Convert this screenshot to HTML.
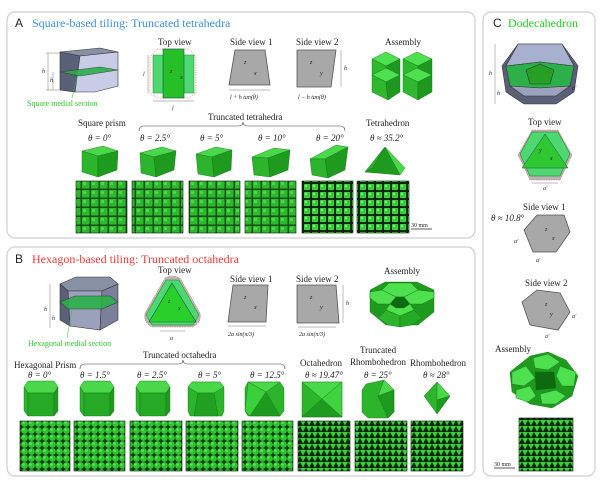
<!DOCTYPE html>
<html><head><meta charset="utf-8"><style>
body{margin:0;background:#fff}
svg{display:block}
text{font-family:"Liberation Serif",serif;fill:#222}
.lab{font-size:9px}
.sm{font-size:6px;font-style:italic}
.th{font-size:9px;font-style:italic}
</style></head><body>
<svg width="600" height="485" viewBox="0 0 600 485" xmlns="http://www.w3.org/2000/svg">
<defs>
<pattern id="pa" width="9" height="9" patternUnits="userSpaceOnUse">
<rect width="9" height="9" fill="#145014"/><rect x="1" y="1" width="7.5" height="7.5" fill="#2eb82e"/><rect x="2" y="2" width="3" height="3" fill="#48d848"/></pattern>
<pattern id="pa2" width="8" height="8" patternUnits="userSpaceOnUse">
<rect width="8" height="8" fill="#062806"/><rect x="0" y="0" width="6" height="6" fill="#38d038"/><rect x="1" y="1" width="2" height="2" fill="#80f080"/></pattern>
<pattern id="pb" width="7" height="7" patternUnits="userSpaceOnUse">
<rect width="7" height="7" fill="#0c3a0c"/><circle cx="3.5" cy="3.5" r="3.4" fill="#2fc42f"/><circle cx="2.5" cy="2.5" r="1.3" fill="#60e060"/></pattern>
<pattern id="pc" width="6" height="6" patternUnits="userSpaceOnUse">
<rect width="6" height="6" fill="#0a2a0a"/><path d="M0 0h6l-3 5.5z" fill="#3ad03a"/></pattern>
</defs>

<rect x="7" y="12" width="468" height="226" rx="8" fill="#fff" stroke="#cfcfcf" stroke-width="1.2"/>
<rect x="7" y="247" width="468" height="229" rx="8" fill="#fff" stroke="#cfcfcf" stroke-width="1.2"/>
<rect x="483" y="12" width="112" height="464" rx="8" fill="#fff" stroke="#cfcfcf" stroke-width="1.2"/>

<text x="15" y="27" style="font-family:'Liberation Sans',sans-serif;font-size:12px" fill="#111">A</text>
<text x="32" y="27" style="font-size:12px;fill:#3a90d8">Square-based tiling: Truncated tetrahedra</text>
<text x="15" y="263" style="font-family:'Liberation Sans',sans-serif;font-size:12px" fill="#111">B</text>
<text x="32" y="263" style="font-size:12px;fill:#f03838">Hexagon-based tiling: Truncated octahedra</text>
<text x="493" y="27" style="font-family:'Liberation Sans',sans-serif;font-size:12px" fill="#111">C</text>
<text x="508" y="27" style="font-size:12px;fill:#22cc22">Dodecahedron</text>

<g stroke="#333" stroke-width="0.6">
<polygon points="60,52 100,48 118,52 80,56" fill="#8890a4"/>
<polygon points="60,52 80,56 75,92 60,90" fill="#5a6078"/>
<polygon points="80,56 118,52 118,86 95,92 75,92" fill="#c8cce6"/>
<polygon points="60,72 100,67 118,70 80,76" fill="#2bb04a" opacity="0.9"/>
</g>
<g stroke="#555" stroke-width="0.4" fill="none"><line x1="46" y1="53" x2="60" y2="53"/><line x1="48" y1="53" x2="48" y2="90"/><line x1="46" y1="90" x2="60" y2="90"/><line x1="53" y1="72" x2="53" y2="90"/></g>
<text x="42" y="73" class="sm">h</text><text x="50" y="82" class="sm">h</text>
<text x="27" y="106" style="font-size:8px;fill:#2ec82e">Square medial section</text>
<line x1="72" y1="98" x2="78" y2="74" stroke="#2ec82e" stroke-width="0.5"/>

<text x="158" y="45" class="lab">Top view</text>
<polygon points="157,49 189,49 196,57 196,93 189,98 157,98 150,93 150,57" fill="none" stroke="#f55" stroke-width="0.5" stroke-dasharray="1.5 1"/>
<rect x="153" y="55" width="41" height="38" fill="#4fd872" stroke="#1a8a1a" stroke-width="0.5"/>
<rect x="163" y="49" width="21" height="49" fill="#26c026" stroke="#155" stroke-width="0.6"/>
<line x1="148" y1="55" x2="148" y2="93" stroke="#555" stroke-width="0.4"/><text x="143" y="76" class="sm">l</text>
<line x1="153" y1="101" x2="194" y2="101" stroke="#555" stroke-width="0.4"/><text x="172" y="110" class="sm">l</text>
<text x="170" y="73" class="sm">z</text><text x="180" y="79" class="sm">x</text>

<text x="230" y="45" class="lab">Side view 1</text>
<polygon points="235,50 265,50 270,85 229,85" fill="#a8a8a8" stroke="#555" stroke-width="0.8"/>
<line x1="229" y1="90" x2="270" y2="90" stroke="#555" stroke-width="0.4"/>
<text x="230" y="99" class="sm">l + h tan(θ)</text><text x="244" y="64" class="sm">z</text><text x="254" y="75" class="sm">x</text>

<text x="296" y="45" class="lab">Side view 2</text>
<polygon points="297,50 336,50 331,87 297,87" fill="#a8a8a8" stroke="#555" stroke-width="0.8"/>
<line x1="341" y1="50" x2="341" y2="87" stroke="#555" stroke-width="0.4"/><text x="344" y="70" class="sm">h</text>
<text x="298" y="99" class="sm">l − h tan(θ)</text><text x="310" y="64" class="sm">z</text><text x="320" y="75" class="sm">y</text>

<text x="385" y="45" class="lab">Assembly</text>
<g stroke="#137013" stroke-width="0.4">
<polygon points="372,59 386,52 400,59 386,66" fill="#4ee04e"/>
<polygon points="372,59 386,66 386,82 372,75" fill="#2fb82f"/><polygon points="386,66 400,59 400,75 386,82" fill="#1f981f"/>
<polygon points="403,59 417,52 432,59 418,66" fill="#4ee04e"/>
<polygon points="403,59 418,66 418,82 403,75" fill="#2fb82f"/><polygon points="418,66 432,59 432,75 418,82" fill="#1f981f"/>
<polygon points="372,75 386,68 400,75 386,82" fill="#4ee04e"/>
<polygon points="372,75 386,82 388,100 372,92" fill="#2fb82f"/><polygon points="386,82 400,75 400,92 388,100" fill="#1f981f"/>
<polygon points="403,75 417,68 432,75 418,82" fill="#4ee04e"/>
<polygon points="403,75 418,82 418,100 403,92" fill="#2fb82f"/><polygon points="418,82 432,75 432,92 418,100" fill="#1f981f"/>
</g>

<text x="78" y="126" class="lab">Square prism</text>
<text x="208" y="120" class="lab">Truncated tetrahedra</text>
<path d="M139,131 q0,-5 5,-5 h94 q5,0 5,-4 q0,4 5,4 h92 q5,0 5,5" fill="none" stroke="#444" stroke-width="0.6"/>
<text x="366" y="126" class="lab">Tetrahedron</text>
<text x="88" y="141" class="th">θ = 0°</text><text x="140" y="141" class="th">θ = 2.5°</text><text x="200" y="141" class="th">θ = 5°</text><text x="258" y="141" class="th">θ = 10°</text><text x="316" y="141" class="th">θ = 20°</text><text x="370" y="141" class="th">θ ≈ 35.2°</text>
<g stroke="#137013" stroke-width="0.4">
<polygon points="82,151 103,146 118,151 98,156" fill="#49d849"/><polygon points="82,151 98,156 98,177 82,172" fill="#2cb52c"/><polygon points="98,156 118,151 117,170 98,177" fill="#1e9a1e"/>
<polygon points="140,153 162,147 176,151 154,157" fill="#49d849"/><polygon points="140,153 154,157 156,177 141,173" fill="#2cb52c"/><polygon points="154,157 176,151 174,170 156,177" fill="#1e9a1e"/>
<polygon points="196,154 216,147 232,150 212,157" fill="#49d849"/><polygon points="196,154 212,157 214,177 198,174" fill="#2cb52c"/><polygon points="212,157 232,150 231,170 214,177" fill="#1e9a1e"/>
<polygon points="252,157 274,148 290,150 268,158" fill="#49d849"/><polygon points="252,157 268,158 270,177 254,175" fill="#2cb52c"/><polygon points="268,158 290,150 288,170 270,177" fill="#1e9a1e"/>
<polygon points="310,159 336,145 348,147 325,159" fill="#49d849"/><polygon points="310,159 325,159 328,178 312,175" fill="#2cb52c"/><polygon points="325,159 348,147 345,170 328,178" fill="#1e9a1e"/>
<polygon points="365,172 385,147 400,175" fill="#1e9a1e"/><polygon points="385,147 400,175 405,168" fill="#49d849"/><polygon points="365,172 385,147 372,168" fill="#2cb52c"/>
</g>
<g stroke="#111" stroke-width="0.6">
<rect x="76" y="181" width="51" height="52" fill="url(#pa)"/>
<rect x="132" y="181" width="51" height="52" fill="url(#pa)"/>
<rect x="189" y="181" width="51" height="52" fill="url(#pa)"/>
<rect x="245" y="181" width="51" height="52" fill="url(#pa)"/>
<rect x="302" y="181" width="51" height="52" fill="url(#pa2)"/>
<rect x="357" y="181" width="52" height="52" fill="url(#pa2)"/>
</g>
<text x="411" y="227" style="font-size:6px">30 mm</text><line x1="411" y1="229" x2="432" y2="229" stroke="#222" stroke-width="0.8"/>

<g stroke="#333" stroke-width="0.6">
<polygon points="60,284 76,277 110,277 118,284 102,291 68,291" fill="#8890a4"/>
<polygon points="60,284 68,291 70,326 60,320" fill="#5a6078"/>
<polygon points="68,291 102,291 100,330 70,326" fill="#9ca2bc"/>
<polygon points="102,291 118,284 118,320 100,330" fill="#7a809a"/>
<polygon points="60,302 75,296 110,296 118,302 102,309 68,309" fill="#2bb04a" opacity="0.9"/>
</g>
<line x1="50" y1="284" x2="50" y2="328" stroke="#555" stroke-width="0.4"/><text x="44" y="311" class="sm">h</text><text x="52" y="320" class="sm">h</text>
<text x="28" y="346" style="font-size:8px;fill:#2ec82e">Hexagonal medial section</text>
<line x1="67" y1="338" x2="72" y2="310" stroke="#2ec82e" stroke-width="0.5"/>

<text x="158" y="273" class="lab">Top view</text>
<path d="M165,278 Q172,274 180,278 L200,313 Q202,322 193,327 L152,327 Q143,322 145,313 Z" fill="#b8b8b8" stroke="#f55" stroke-width="0.5" stroke-dasharray="1.5 1"/>
<polygon points="166,280 179,280 199,315 193,325 152,325 146,315" fill="#4fd872" stroke="#1a7a1a" stroke-width="0.5"/>
<polygon points="172,283 196,322 149,322" fill="#2ad02a" stroke="#155" stroke-width="0.6"/>
<line x1="160" y1="331" x2="185" y2="331" stroke="#555" stroke-width="0.4"/><text x="170" y="340" class="sm">a</text>
<text x="168" y="303" class="sm">z</text><text x="178" y="310" class="sm">x</text>

<text x="230" y="282" class="lab">Side view 1</text>
<polygon points="233,285 268,285 266,322 228,322" fill="#a8a8a8" stroke="#555" stroke-width="0.8"/>
<line x1="228" y1="326" x2="266" y2="326" stroke="#555" stroke-width="0.4"/>
<text x="228" y="336" class="sm">2a sin(π/3)</text><text x="244" y="299" class="sm">z</text><text x="254" y="309" class="sm">x</text>
<text x="296" y="282" class="lab">Side view 2</text>
<polygon points="297,285 336,285 339,323 297,323" fill="#a8a8a8" stroke="#555" stroke-width="0.8"/>
<line x1="343" y1="285" x2="343" y2="323" stroke="#555" stroke-width="0.4"/><text x="346" y="305" class="sm">h</text>
<line x1="298" y1="327" x2="336" y2="327" stroke="#555" stroke-width="0.4"/><text x="299" y="336" class="sm">2a sin(π/3)</text>
<text x="310" y="299" class="sm">z</text><text x="320" y="309" class="sm">y</text>

<text x="384" y="274" class="lab">Assembly</text>
<g stroke="#137013" stroke-width="0.4">
<polygon points="370,290 385,282 417,282 434,290 434,312 418,325 386,325 370,312" fill="#1f9a1f"/>
<polygon points="389,283 411,283 418,290 404,297 396,297 382,290" fill="#4ee04e"/>
<polygon points="370,292 382,290 396,297 390,304 378,304 370,298" fill="#4ee04e"/>
<polygon points="434,292 418,290 404,297 410,304 422,304 434,298" fill="#4ee04e"/>
<polygon points="396,297 404,297 410,304 404,308 396,308 390,304" fill="#0e6a0e"/>
<polygon points="390,304 396,308 404,308 410,304 414,310 400,316 386,310" fill="#4ee04e"/>
<polygon points="386,310 400,316 400,327 388,325 378,318" fill="#2cb52c"/>
<polygon points="400,316 414,310 422,318 412,325 400,327" fill="#25a825"/>
</g>

<text x="14" y="368" class="lab">Hexagonal Prism</text>
<text x="143" y="358" class="lab">Truncated octahedra</text>
<path d="M80,369 q0,-5 5,-5 h93 q5,0 5,-4 q0,4 5,4 h92 q5,0 5,5" fill="none" stroke="#444" stroke-width="0.6"/>
<text x="300" y="366" class="lab">Octahedron</text>
<text x="360" y="353" class="lab">Truncated</text><text x="350" y="365" class="lab">Rhombohedron</text>
<text x="410" y="366" class="lab">Rhombohedron</text>
<text x="28" y="378" class="th">θ = 0°</text><text x="80" y="378" class="th">θ = 1.5°</text><text x="137" y="378" class="th">θ = 2.5°</text><text x="198" y="378" class="th">θ = 5°</text><text x="250" y="378" class="th">θ = 12.5°</text>
<text x="305" y="378" class="th">θ ≈ 19.47°</text><text x="364" y="378" class="th">θ = 25°</text><text x="423" y="378" class="th">θ ≈ 28°</text>
<g stroke="#137013" stroke-width="0.4">
<g id="hx"><polygon points="24,387 28,381 54,381 58,387 54,393 28,393" fill="#49d849"/><polygon points="24,387 28,393 28,416 24,411" fill="#2cb52c"/><polygon points="28,393 54,393 54,416 28,416" fill="#27ab27"/><polygon points="54,393 58,387 58,411 54,416" fill="#1e9a1e"/></g>
<use href="#hx" x="56"/><use href="#hx" x="112"/>
<polygon points="192,382 220,382 224,387 224,411 222,416 190,416 188,411 188,387" fill="#2cb52c"/><polygon points="192,382 220,382 224,387 214,393 198,393 188,387" fill="#49d849"/><polygon points="198,393 214,393 218,416 194,416" fill="#22a022"/>
<polygon points="248,382 280,382 284,388 284,411 280,416 248,416 245,411 245,388" fill="#2cb52c"/><polygon points="248,382 280,382 266,392" fill="#49d849"/><polygon points="266,392 280,416 250,416" fill="#1e9a1e"/><polygon points="248,382 266,392 250,416 245,411" fill="#3ad03a"/>
<rect x="302" y="382" width="40" height="35" fill="#2cb52c"/><polygon points="302,382 342,382 322,399" fill="#49d849"/><polygon points="302,417 342,417 322,399" fill="#1e9a1e"/><polygon points="342,382 342,417 322,399" fill="#3fd33f"/>
<polygon points="366,384 384,380 394,390 394,412 388,418 368,418 362,412 362,390" fill="#2cb52c"/><polygon points="378,396 394,390 394,412 388,418" fill="#1e9a1e"/><polygon points="384,380 394,390 378,396" fill="#49d849"/>
<polygon points="437,382 450,396 437,414 424,396" fill="#2cb52c"/><polygon points="437,382 450,396 437,400" fill="#49d849"/><polygon points="437,400 450,396 437,414" fill="#1e9a1e"/>
</g>
<g stroke="#111" stroke-width="0.6">
<rect x="20" y="421" width="50" height="50" fill="url(#pb)"/>
<rect x="74" y="421" width="51" height="50" fill="url(#pb)"/>
<rect x="130" y="421" width="52" height="50" fill="url(#pb)"/>
<rect x="186" y="421" width="52" height="50" fill="url(#pb)"/>
<rect x="242" y="421" width="51" height="50" fill="url(#pb)"/>
<rect x="298" y="421" width="52" height="50" fill="url(#pc)"/>
<rect x="355" y="421" width="52" height="50" fill="url(#pc)"/>
<rect x="411" y="421" width="52" height="50" fill="url(#pc)"/>
</g>

<g stroke="#333" stroke-width="0.6">
<polygon points="518,44 562,44 578,66 574,92 556,104 524,104 506,92 502,66" fill="#5a6078"/>
<polygon points="518,44 562,44 574,66 540,62 506,66" fill="#a8b0d0"/>
<polygon points="506,66 540,62 574,66 570,86 540,88 510,86" fill="#2bb04a"/>
<polygon points="526,70 540,64 554,70 550,84 530,84" fill="#25a025"/>
<polygon points="510,86 540,88 570,86 556,96 524,96" fill="#9ca2bc"/>
</g>
<line x1="495" y1="44" x2="495" y2="104" stroke="#555" stroke-width="0.4"/><text x="489" y="75" class="sm">h</text><text x="497" y="95" class="sm">h</text>
<text x="572" y="90" class="sm">a'</text>
<text x="528" y="125" class="lab">Top view</text>
<polygon points="532,130 558,130 572,155 560,180 530,180 518,155" fill="#b5b5b5" stroke="#f55" stroke-width="0.5" stroke-dasharray="1.5 1"/>
<polygon points="532,132 558,132 570,154 560,176 530,176 520,154" fill="#4fd872" stroke="#1a6a1a" stroke-width="0.5"/>
<polygon points="545,134 568,168 522,168" fill="#30c830" stroke="#155" stroke-width="0.5"/>
<line x1="532" y1="183" x2="558" y2="183" stroke="#555" stroke-width="0.4"/><text x="543" y="190" class="sm">a'</text>
<text x="539" y="152" class="sm">y</text><text x="550" y="160" class="sm">x</text>
<text x="523" y="210" class="lab">Side view 1</text>
<text x="491" y="221" class="th">θ ≈ 10.8°</text>
<polygon points="524,230 537,215 564,215 570,232 556,252 533,252" fill="#a8a8a8" stroke="#555" stroke-width="0.8"/>
<text x="545" y="231" class="sm">z</text><text x="552" y="240" class="sm">x</text>
<text x="514" y="243" class="sm">a'</text><text x="536" y="262" class="sm">a'</text>
<text x="525" y="286" class="lab">Side view 2</text>
<polygon points="522,302 537,290 560,293 570,312 558,330 530,325" fill="#a8a8a8" stroke="#555" stroke-width="0.8"/>
<text x="545" y="306" class="sm">z</text><text x="550" y="316" class="sm">y</text>
<text x="572" y="318" class="sm">a'</text><text x="545" y="338" class="sm">a'</text>
<text x="495" y="352" class="lab">Assembly</text>
<g stroke="#137013" stroke-width="0.4">
<polygon points="530,356 548,352 566,360 578,376 572,396 552,408 530,404 512,392 510,372" fill="#1f9a1f"/>
<polygon points="533,358 548,354 560,362 548,370 535,368" fill="#4ee04e"/>
<polygon points="512,372 526,366 535,378 524,386 512,384" fill="#4ee04e"/>
<polygon points="560,366 576,372 574,386 562,386 556,376" fill="#4ee04e"/>
<polygon points="535,372 554,372 556,388 536,390" fill="#0e6a0e"/>
<polygon points="516,390 530,386 536,396 528,402 516,398" fill="#4ee04e"/>
<polygon points="540,394 556,390 566,396 556,404 542,404" fill="#4ee04e"/>
</g>
<rect x="519" y="418" width="54" height="53" fill="url(#pc)" stroke="#111" stroke-width="0.6"/>
<text x="494" y="466" style="font-size:6px">30 mm</text><line x1="494" y1="468" x2="515" y2="468" stroke="#222" stroke-width="0.8"/>
</svg>
</body></html>
